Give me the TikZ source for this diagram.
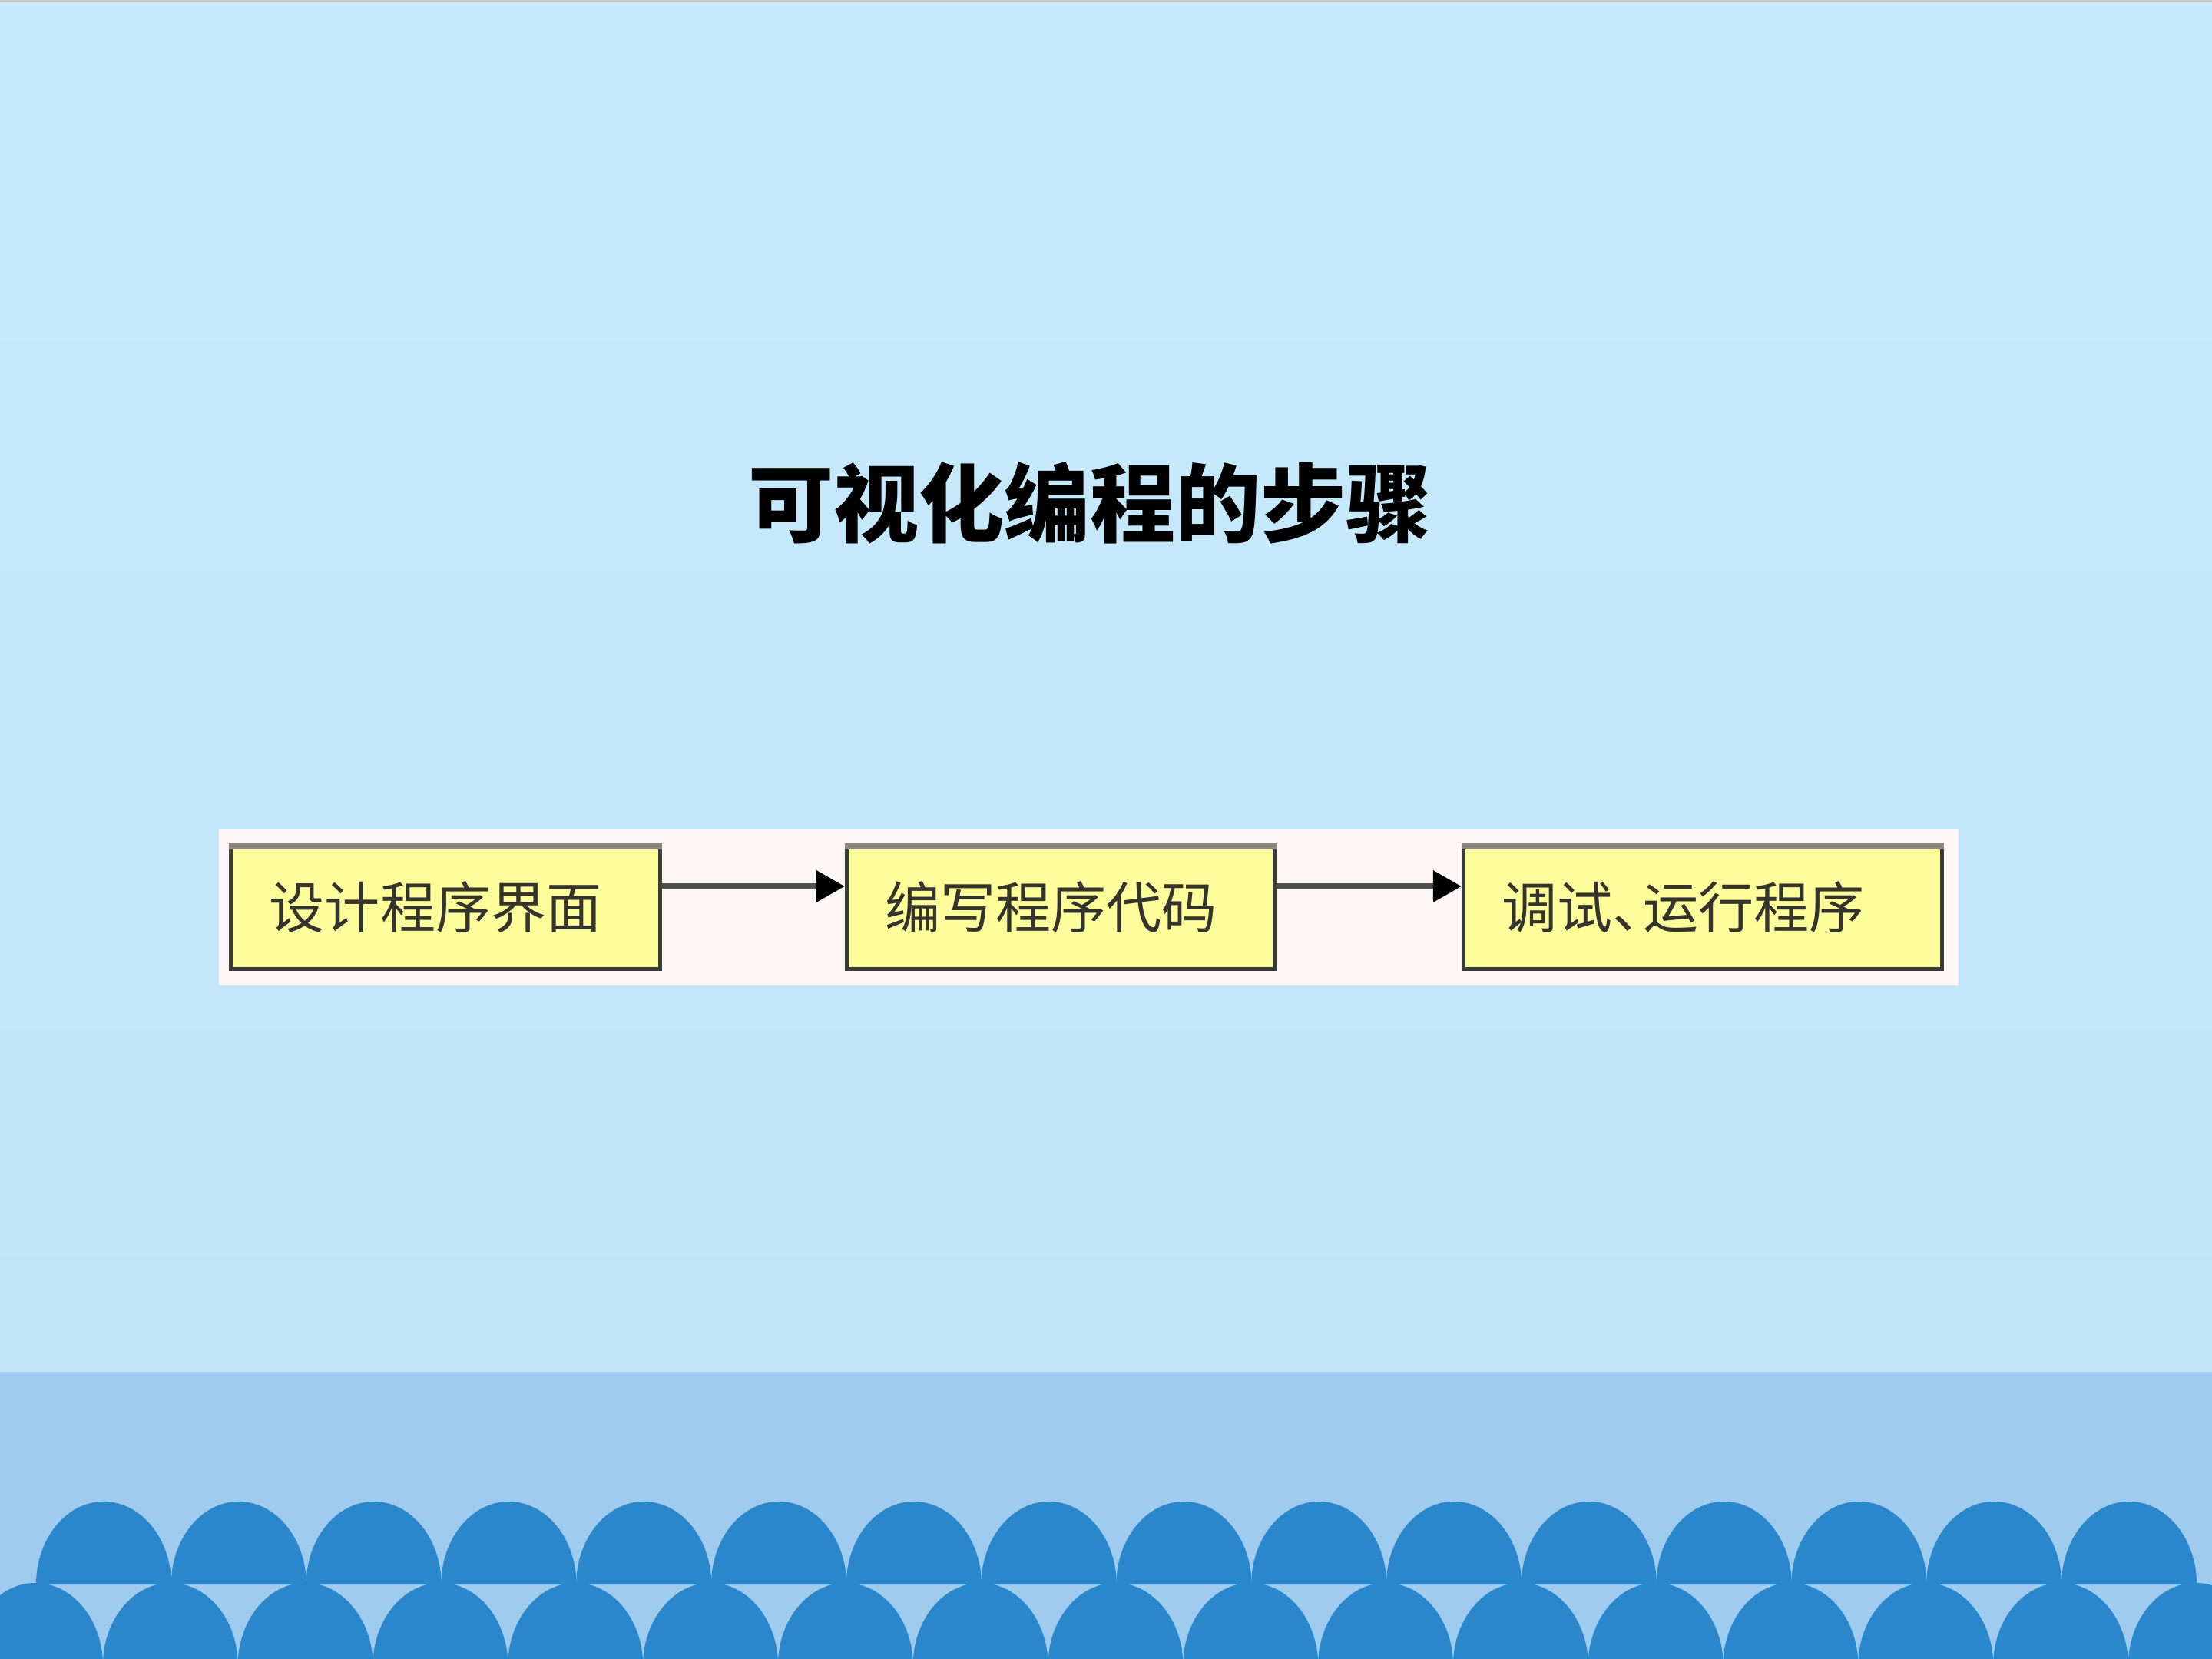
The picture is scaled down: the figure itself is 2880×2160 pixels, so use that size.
\documentclass[tikz,border=0pt]{standalone}
\usepackage{fontspec}
\newfontfamily\cjk{Noto Sans CJK SC}
\usetikzlibrary{arrows.meta}
\definecolor{skytop}{HTML}{C7EAFC}
\definecolor{skybot}{HTML}{C2E4F7}
\definecolor{band}{HTML}{9FCBEF}
\definecolor{dome}{HTML}{2A87CC}
\definecolor{panel}{HTML}{FDF6F6}
\definecolor{boxfill}{HTML}{FEFD9C}
\definecolor{boxline}{HTML}{3A3A36}
\definecolor{boxtop}{HTML}{8A877C}
\definecolor{arrowline}{HTML}{505050}
\definecolor{boxtext}{HTML}{34342C}
\definecolor{topline}{HTML}{C8C8C8}
\begin{document}
\begin{tikzpicture}[x=0.01cm,y=-0.01cm,
  stepbox/.style={draw=boxline, line width=0.05cm, fill=boxfill, minimum height=1.6cm,
    inner xsep=0.5cm, align=left, text=boxtext,
    font=\cjk\fontsize{20.5pt}{24pt}\selectfont},
  flow/.style={draw=arrowline, line width=0.07cm, -{Triangle[length=0.37cm,width=0.40cm,black]}},
  domeshape/.style={fill=dome}]
\useasboundingbox (0,0) rectangle (2880,2160);
% background
\shade[top color=skytop,bottom color=skybot] (0,0) rectangle (2880,1786);
\fill[band] (0,1786) rectangle (2880,2160);
\fill[topline] (0,0) rectangle (2880,3);
\begin{scope}
\clip (0,0) rectangle (2880,2160);
\foreach \k in {0,...,15} {
  \fill[domeshape] ({135+175.8*\k-88},2063) arc[start angle=180,end angle=0,x radius=0.88cm,y radius=1.08cm] -- cycle;
}
\foreach \k in {0,...,16} {
  \fill[domeshape] ({46+175.8*\k-88},2169) arc[start angle=180,end angle=0,x radius=0.88cm,y radius=1.08cm] -- cycle;
}
\end{scope}
% title
\node (title) at (1419,655) {\cjk\bfseries\fontsize{31.6pt}{36pt}\selectfont 可视化编程的步骤};
% panel
\fill[panel] (285,1080) rectangle (2550,1283);
% boxes
\node[stepbox, text width=4.58cm] (b1) at (580,1181) {设计程序界面};
\node[stepbox, text width=4.57cm] (b2) at (1381,1181) {编写程序代码};
\node[stepbox, text width=5.23cm] (b3) at (2217,1181) {调试\makebox[0.55em][l]{、}运行程序};
\foreach \b in {b1,b2,b3} {
  \fill[boxtop] (\b.north west) rectangle ([yshift=-0.08cm]\b.north east);
}
\draw[flow] ([yshift=0.27cm]b1.east) -- ([yshift=0.27cm]b2.west);
\draw[flow] ([yshift=0.27cm]b2.east) -- ([yshift=0.27cm]b3.west);
\end{tikzpicture}
\end{document}
